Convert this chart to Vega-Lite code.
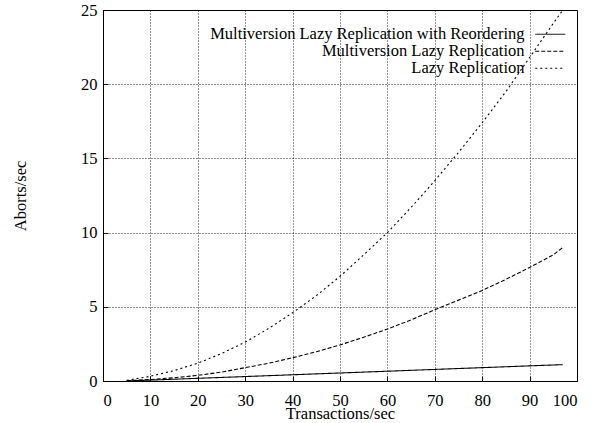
{
  "$schema": "https://vega.github.io/schema/vega-lite/v6.json",
  "width": 474,
  "height": 371,
  "autosize": "none",
  "padding": {"left": 103, "top": 10, "right": 21, "bottom": 42},
  "background": "white",
  "config": {
    "font": "Liberation Serif",
    "view": {"stroke": "black", "strokeWidth": 1},
    "axis": {
      "labelFont": "Liberation Serif",
      "labelFontSize": 16.5,
      "labelColor": "black",
      "titleFont": "Liberation Serif",
      "titleFontSize": 16.5,
      "titleFontWeight": "normal",
      "titleColor": "black",
      "domainColor": "black",
      "tickColor": "black",
      "gridColor": "black",
      "gridDash": [1, 2],
      "gridOpacity": 0.85,
      "gridWidth": 1
    },
    "legend": {
      "orient": "none",
      "legendX": 439,
      "legendY": 16,
      "labelFont": "Liberation Serif",
      "labelFontSize": 16.5,
      "labelColor": "black",
      "labelAlign": "right",
      "labelOffset": -34,
      "symbolSize": 225,
      "symbolStrokeWidth": 1,
      "symbolStrokeColor": "black",
      "rowPadding": 0,
      "padding": 0,
      "labelLimit": 400
    }
  },
  "data": {
    "values": [
      {"tps": 5, "aborts": 0.05, "series": "Lazy Replication"},
      {"tps": 10, "aborts": 0.32, "series": "Lazy Replication"},
      {"tps": 15, "aborts": 0.7, "series": "Lazy Replication"},
      {"tps": 20, "aborts": 1.2, "series": "Lazy Replication"},
      {"tps": 25, "aborts": 1.85, "series": "Lazy Replication"},
      {"tps": 30, "aborts": 2.62, "series": "Lazy Replication"},
      {"tps": 35, "aborts": 3.55, "series": "Lazy Replication"},
      {"tps": 40, "aborts": 4.6, "series": "Lazy Replication"},
      {"tps": 45, "aborts": 5.75, "series": "Lazy Replication"},
      {"tps": 50, "aborts": 7.05, "series": "Lazy Replication"},
      {"tps": 55, "aborts": 8.5, "series": "Lazy Replication"},
      {"tps": 60, "aborts": 10.0, "series": "Lazy Replication"},
      {"tps": 65, "aborts": 11.7, "series": "Lazy Replication"},
      {"tps": 70, "aborts": 13.5, "series": "Lazy Replication"},
      {"tps": 75, "aborts": 15.4, "series": "Lazy Replication"},
      {"tps": 80, "aborts": 17.4, "series": "Lazy Replication"},
      {"tps": 85, "aborts": 19.5, "series": "Lazy Replication"},
      {"tps": 90, "aborts": 21.8, "series": "Lazy Replication"},
      {"tps": 95, "aborts": 24.1, "series": "Lazy Replication"},
      {"tps": 97, "aborts": 25.0, "series": "Lazy Replication"},
      {"tps": 5, "aborts": 0.02, "series": "Multiversion Lazy Replication"},
      {"tps": 10, "aborts": 0.1, "series": "Multiversion Lazy Replication"},
      {"tps": 15, "aborts": 0.22, "series": "Multiversion Lazy Replication"},
      {"tps": 20, "aborts": 0.38, "series": "Multiversion Lazy Replication"},
      {"tps": 25, "aborts": 0.6, "series": "Multiversion Lazy Replication"},
      {"tps": 30, "aborts": 0.9, "series": "Multiversion Lazy Replication"},
      {"tps": 35, "aborts": 1.2, "series": "Multiversion Lazy Replication"},
      {"tps": 40, "aborts": 1.57, "series": "Multiversion Lazy Replication"},
      {"tps": 45, "aborts": 1.97, "series": "Multiversion Lazy Replication"},
      {"tps": 50, "aborts": 2.43, "series": "Multiversion Lazy Replication"},
      {"tps": 55, "aborts": 2.95, "series": "Multiversion Lazy Replication"},
      {"tps": 60, "aborts": 3.5, "series": "Multiversion Lazy Replication"},
      {"tps": 65, "aborts": 4.12, "series": "Multiversion Lazy Replication"},
      {"tps": 70, "aborts": 4.8, "series": "Multiversion Lazy Replication"},
      {"tps": 75, "aborts": 5.45, "series": "Multiversion Lazy Replication"},
      {"tps": 80, "aborts": 6.1, "series": "Multiversion Lazy Replication"},
      {"tps": 85, "aborts": 6.85, "series": "Multiversion Lazy Replication"},
      {"tps": 90, "aborts": 7.65, "series": "Multiversion Lazy Replication"},
      {"tps": 95, "aborts": 8.5, "series": "Multiversion Lazy Replication"},
      {"tps": 97, "aborts": 9.0, "series": "Multiversion Lazy Replication"},
      {"tps": 5, "aborts": 0.0, "series": "Multiversion Lazy Replication with Reordering"},
      {"tps": 10, "aborts": 0.06, "series": "Multiversion Lazy Replication with Reordering"},
      {"tps": 15, "aborts": 0.12, "series": "Multiversion Lazy Replication with Reordering"},
      {"tps": 20, "aborts": 0.18, "series": "Multiversion Lazy Replication with Reordering"},
      {"tps": 25, "aborts": 0.24, "series": "Multiversion Lazy Replication with Reordering"},
      {"tps": 30, "aborts": 0.3, "series": "Multiversion Lazy Replication with Reordering"},
      {"tps": 35, "aborts": 0.36, "series": "Multiversion Lazy Replication with Reordering"},
      {"tps": 40, "aborts": 0.42, "series": "Multiversion Lazy Replication with Reordering"},
      {"tps": 45, "aborts": 0.48, "series": "Multiversion Lazy Replication with Reordering"},
      {"tps": 50, "aborts": 0.54, "series": "Multiversion Lazy Replication with Reordering"},
      {"tps": 55, "aborts": 0.6, "series": "Multiversion Lazy Replication with Reordering"},
      {"tps": 60, "aborts": 0.66, "series": "Multiversion Lazy Replication with Reordering"},
      {"tps": 65, "aborts": 0.72, "series": "Multiversion Lazy Replication with Reordering"},
      {"tps": 70, "aborts": 0.78, "series": "Multiversion Lazy Replication with Reordering"},
      {"tps": 75, "aborts": 0.84, "series": "Multiversion Lazy Replication with Reordering"},
      {"tps": 80, "aborts": 0.9, "series": "Multiversion Lazy Replication with Reordering"},
      {"tps": 85, "aborts": 0.96, "series": "Multiversion Lazy Replication with Reordering"},
      {"tps": 90, "aborts": 1.02, "series": "Multiversion Lazy Replication with Reordering"},
      {"tps": 95, "aborts": 1.08, "series": "Multiversion Lazy Replication with Reordering"},
      {"tps": 97, "aborts": 1.1, "series": "Multiversion Lazy Replication with Reordering"}
    ]
  },
  "mark": {"type": "line", "color": "black", "strokeWidth": 1.1, "clip": true},
  "encoding": {
    "x": {
      "field": "tps",
      "type": "quantitative",
      "scale": {"domain": [0, 100], "nice": false},
      "axis": {"title": "Transactions/sec", "values": [0, 10, 20, 30, 40, 50, 60, 70, 80, 90, 100], "tickSize": -5, "labelPadding": 16, "titlePadding": -3}
    },
    "y": {
      "field": "aborts",
      "type": "quantitative",
      "scale": {"domain": [0, 25], "nice": false},
      "axis": {"title": "Aborts/sec", "values": [0, 5, 10, 15, 20, 25], "tickSize": -5, "labelPadding": 11, "titlePadding": 52}
    },
    "strokeDash": {
      "field": "series",
      "type": "nominal",
      "scale": {
        "domain": ["Multiversion Lazy Replication with Reordering", "Multiversion Lazy Replication", "Lazy Replication"],
        "range": [[1, 0], [4, 2], [2, 3]]
      },
      "legend": {"title": null, "symbolType": "M-2,0H2"}
    }
  }
}
